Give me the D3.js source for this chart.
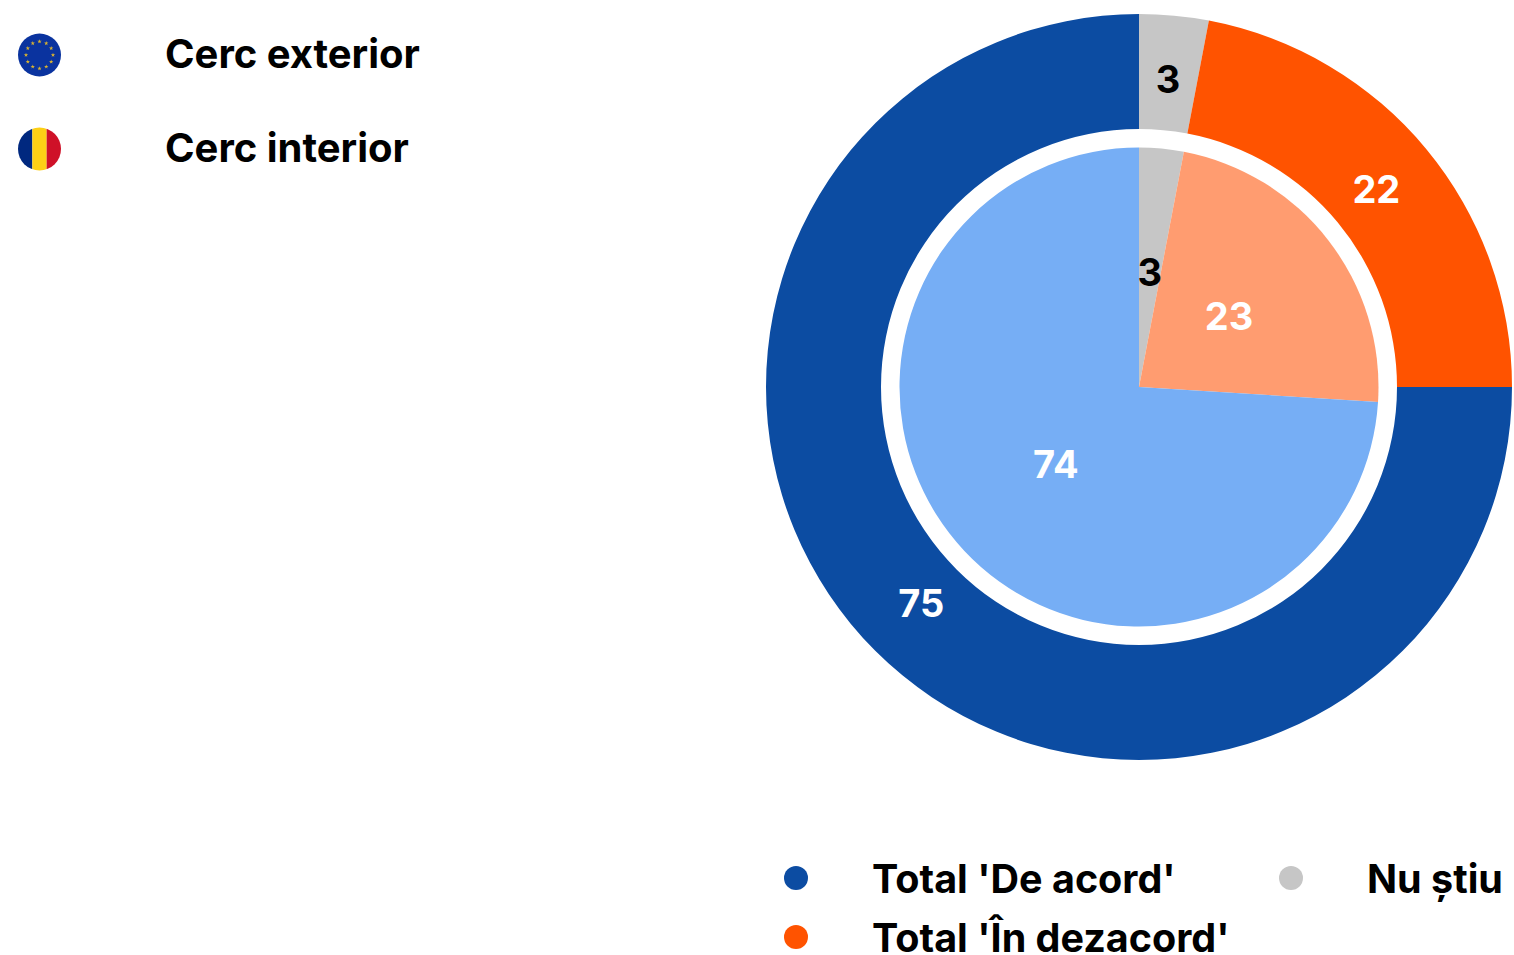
<!DOCTYPE html>
<html>
<head>
<meta charset="utf-8">
<script src="https://cdn.jsdelivr.net/npm/d3@7"></script>
<style>
  html, body { margin: 0; padding: 0; background: #fff; }
  svg { display: block; }
  text { font-family: Inter, "Noto Sans", sans-serif; font-weight: 700; }
</style>
</head>
<body>
<svg id="vis-svg" width="1514" height="955"></svg>
<script>
// Data
var categories = ["Nu știu", "Total 'În dezacord'", "Total 'De acord'"];
var outerValues = [3, 22, 75];
var innerValues = [3, 23, 74];
var outerColors = ["#c6c6c6", "#ff5300", "#0c4ca2"];
var innerColors = ["#c6c6c6", "#ff9c70", "#76aef5"];
var labelColors = ["#000000", "#ffffff", "#ffffff"];
var ringLabels = ["Cerc exterior", "Cerc interior"];
var romaniaColors = ["#00287f", "#fdd016", "#cf1128"];

var svg = d3.select('#vis-svg');
var cx = 1139, cy = 387;

var pie = d3.pie().sort(null);

function drawPie(values, colors, rInner, rOuter, rLabel) {
  var g = svg.append('g').attr('transform', 'translate(' + cx + ',' + cy + ')');
  var arc = d3.arc().innerRadius(rInner).outerRadius(rOuter);
  var labelArc = d3.arc().innerRadius(rLabel).outerRadius(rLabel);
  var slices = pie(values);

  g.selectAll('path').data(slices).enter().append('path')
    .attr('d', arc)
    .attr('fill', function(d, i) { return colors[i]; });

  g.selectAll('text').data(slices).enter().append('text')
    .attr('transform', function(d) { return 'translate(' + labelArc.centroid(d) + ')'; })
    .attr('text-anchor', 'middle')
    .attr('dy', '0.33em')
    .attr('font-size', 38)
    .attr('fill', function(d, i) { return labelColors[i]; })
    .text(function(d) { return d.value; });
}

drawPie(outerValues, outerColors, 258, 373, 308);
drawPie(innerValues, innerColors, 0, 239.5, 114);

// Top left legend with the flags
var defs = svg.append('defs');
defs.append('clipPath').attr('id', 'flag-clip')
  .append('circle').attr('r', 21.5);

var eu = svg.append('g').attr('transform', 'translate(39.5,55)');
eu.append('circle').attr('r', 21.5).attr('fill', '#0a339f');
var star = d3.symbol().type(d3.symbolStar).size(6);
eu.selectAll('path').data(d3.range(12)).enter().append('path')
  .attr('d', star)
  .attr('fill', '#d9b331')
  .attr('transform', function(d) {
    var a = d * Math.PI / 6;
    return 'translate(' + (13.5 * Math.sin(a)) + ',' + (-13.5 * Math.cos(a)) + ')';
  });

var ro = svg.append('g')
  .attr('transform', 'translate(39.5,149)')
  .append('g').attr('clip-path', 'url(#flag-clip)');
var roX = d3.scaleBand().domain(d3.range(3)).range([-21.5, 21.5]);
ro.selectAll('rect').data(romaniaColors).enter().append('rect')
  .attr('x', function(d, i) { return roX(i); })
  .attr('y', -22)
  .attr('width', roX.bandwidth())
  .attr('height', 44)
  .attr('fill', function(d) { return d; });

svg.selectAll('text.ring').data(ringLabels).enter().append('text')
  .attr('class', 'ring')
  .attr('x', 165)
  .attr('y', function(d, i) { return 68 + i * 94; })
  .attr('font-size', 40)
  .attr('fill', '#000')
  .text(function(d) { return d; });

// Bottom legend
var legendOrder = [2, 1, 0];
var legendX = [796, 796, 1291];
var legendY = [878, 937, 878];
var legend = svg.selectAll('g.legend').data(legendOrder).enter().append('g')
  .attr('class', 'legend')
  .attr('transform', function(d, i) { return 'translate(' + legendX[i] + ',' + legendY[i] + ')'; });
legend.append('circle')
  .attr('r', 12)
  .attr('fill', function(d) { return outerColors[d]; });
legend.append('text')
  .attr('x', 76)
  .attr('y', 15)
  .attr('font-size', 39.5)
  .attr('fill', '#000')
  .text(function(d) { return categories[d]; });
</script>
</body>
</html>
